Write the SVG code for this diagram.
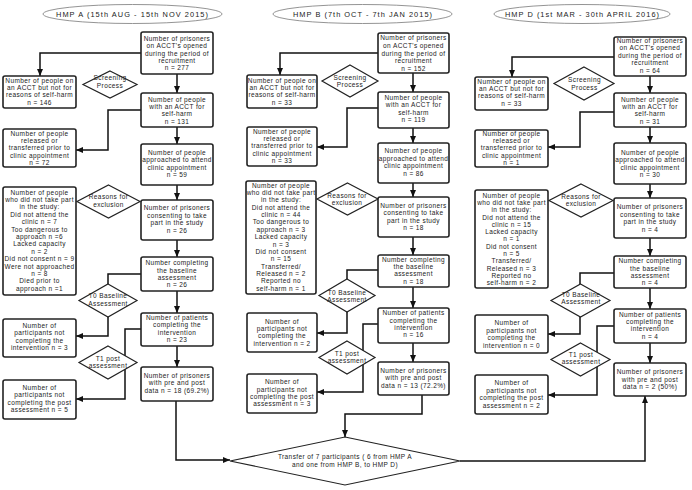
<svg xmlns="http://www.w3.org/2000/svg" width="692" height="490" viewBox="0 0 692 490">
<defs>
<marker id="ah" markerUnits="userSpaceOnUse" markerWidth="7" markerHeight="6" refX="7" refY="3" orient="auto">
<path d="M0,0 L7,3 L0,6 z" fill="#111"/>
</marker>
<style>
.bx{fill:#fff;stroke:#222;stroke-width:1.6}
.dm{fill:#fff;stroke:#222;stroke-width:1.2}
.el{fill:#fff;stroke:#888;stroke-width:0.9}
.t{font-family:"Liberation Sans",Arial,sans-serif;font-size:6.5px;letter-spacing:0.4px;fill:#222;text-anchor:middle}
.h{font-family:"Liberation Sans",Arial,sans-serif;font-size:7.4px;fill:#222;text-anchor:middle}
.c{fill:none;stroke:#111;stroke-width:1.5}
.a{marker-end:url(#ah)}
</style>
</defs>
<rect width="692" height="490" fill="#fff"/>

<g id="connectors">
<!-- Column A -->
<path class="c a" d="M141,53 H40 V76"/>
<path class="c a" d="M177,74 V93"/>
<path class="c a" d="M141,110 H108 V150 H76"/>
<path class="c a" d="M177,127 V144"/>
<path class="c a" d="M177,185 V200"/>
<path class="c a" d="M177,240 V257"/>
<path class="c" d="M141,274 H108 V284"/>
<path class="c a" d="M108,317 V336 H76"/>
<path class="c a" d="M177,291 V313"/>
<path class="c a" d="M141,329 H125 V399 H76"/>
<path class="c a" d="M177,346 V367"/>
<path class="c a" d="M176,401 V460 H230"/>
<!-- Column B -->
<path class="c a" d="M378,53 H280 V75"/>
<path class="c a" d="M413,73 V92"/>
<path class="c a" d="M378,108 H347 V147 H317"/>
<path class="c a" d="M413,128 V143"/>
<path class="c a" d="M413,183 V197"/>
<path class="c a" d="M413,237 V255"/>
<path class="c" d="M378,270 H347 V279"/>
<path class="c a" d="M347,312 V333 H317"/>
<path class="c a" d="M413,287 V308"/>
<path class="c a" d="M378,324 H363 V392 H317"/>
<path class="c a" d="M413,343 V362"/>
<path class="c a" d="M422,395 V414 H345 V437"/>
<!-- Column D -->
<path class="c a" d="M614,57 H512 V77"/>
<path class="c a" d="M650,76 V93"/>
<path class="c a" d="M614,112 H580 V147 H548"/>
<path class="c a" d="M650,127 V143"/>
<path class="c a" d="M650,184 V198"/>
<path class="c a" d="M650,238 V256"/>
<path class="c" d="M614,273 H580 V284"/>
<path class="c a" d="M580,317 V334 H548"/>
<path class="c a" d="M650,288 V309"/>
<path class="c a" d="M614,326 H597 V395 H548"/>
<path class="c a" d="M650,343 V363"/>
<path class="c a" d="M460,461 H645 V396"/>
</g>

<!-- Titles -->
<g id="titleA"><ellipse class="el" cx="132.5" cy="14" rx="89.5" ry="9.5"/><text class="h" x="132" y="16.6" textLength="152" lengthAdjust="spacing">HMP A (15th AUG - 15th NOV 2015)</text></g>
<g id="titleB"><ellipse class="el" cx="362.5" cy="14" rx="89.5" ry="9.5"/><text class="h" x="362.5" y="16.6" textLength="139" lengthAdjust="spacing">HMP B (7th OCT - 7th JAN 2015)</text></g>
<g id="titleD"><ellipse class="el" cx="582" cy="14" rx="88" ry="9.5"/><text class="h" x="582" y="16.6" textLength="154" lengthAdjust="spacing">HMP D (1st MAR - 30th APRIL 2016)</text></g>

<!-- Column A nodes -->
<g id="A1"><rect class="bx" x="141" y="32" width="72" height="42" rx="2"/><text class="t"><tspan x="177" y="40.8">Number of prisoners</tspan><tspan x="177" y="48.2">on ACCT's opened</tspan><tspan x="177" y="55.6">during the period of</tspan><tspan x="177" y="63">recruitment</tspan><tspan x="177" y="70.4">n = 277</tspan></text></g>
<g id="A2"><rect class="bx" x="3" y="76" width="73" height="32" rx="2"/><text class="t"><tspan x="39.5" y="82.5">Number of people on</tspan><tspan x="39.5" y="89.9">an ACCT but not for</tspan><tspan x="39.5" y="97.3">reasons of self-harm</tspan><tspan x="39.5" y="104.7">n = 146</tspan></text></g>
<g id="A_screen"><polygon class="dm" points="110,71 137,84.5 110,98 83,84.5"/><text class="t"><tspan x="110" y="80.3">Screening</tspan><tspan x="110" y="87.7">Process</tspan></text></g>
<g id="A3"><rect class="bx" x="141" y="93" width="72" height="34" rx="2"/><text class="t"><tspan x="177" y="101.5">Number of people</tspan><tspan x="177" y="108.9">with an ACCT for</tspan><tspan x="177" y="116.3">self-harm</tspan><tspan x="177" y="123.7">n = 131</tspan></text></g>
<g id="A4"><rect class="bx" x="3" y="129" width="73" height="38" rx="2"/><text class="t"><tspan x="39.5" y="135.5">Number of people</tspan><tspan x="39.5" y="142.9">released or</tspan><tspan x="39.5" y="150.3">transferred prior to</tspan><tspan x="39.5" y="157.7">clinic appointment</tspan><tspan x="39.5" y="165.1">n = 72</tspan></text></g>
<g id="A5"><rect class="bx" x="141" y="144" width="72" height="41" rx="2"/><text class="t"><tspan x="177" y="154.9">Number of people</tspan><tspan x="177" y="162.3">approached to attend</tspan><tspan x="177" y="169.7">clinic appointment</tspan><tspan x="177" y="177.1">n = 59</tspan></text></g>
<g id="A_reasons"><polygon class="dm" points="108.5,185 140,201.5 108.5,218 77,201.5"/><text class="t"><tspan x="108.5" y="199.4">Reasons for</tspan><tspan x="108.5" y="206.8">exclusion</tspan></text></g>
<g id="A6"><rect class="bx" x="3" y="187" width="73" height="108" rx="2"/><text class="t"><tspan x="39.5" y="194.6">Number of people</tspan><tspan x="39.5" y="202">who did not take part</tspan><tspan x="39.5" y="209.4">in the study:</tspan><tspan x="39.5" y="216.8">Did not attend the</tspan><tspan x="39.5" y="224.1">clinic n = 7</tspan><tspan x="39.5" y="231.5">Too dangerous to</tspan><tspan x="39.5" y="238.9">approach n =6</tspan><tspan x="39.5" y="246.3">Lacked capacity</tspan><tspan x="39.5" y="253.7">n = 2</tspan><tspan x="39.5" y="261.1">Did not consent n = 9</tspan><tspan x="39.5" y="268.5">Were not approached</tspan><tspan x="39.5" y="275.8">n = 8</tspan><tspan x="39.5" y="283.2">Died prior to</tspan><tspan x="39.5" y="290.6">approach n =1</tspan></text></g>
<g id="A7"><rect class="bx" x="141" y="200" width="72" height="40" rx="2"/><text class="t"><tspan x="177" y="210.3">Number of prisoners</tspan><tspan x="177" y="217.7">consenting to take</tspan><tspan x="177" y="225.1">part in the study</tspan><tspan x="177" y="232.5">n = 26</tspan></text></g>
<g id="A8"><rect class="bx" x="141" y="257" width="72" height="34" rx="2"/><text class="t"><tspan x="177" y="265.2">Number completing</tspan><tspan x="177" y="272.6">the baseline</tspan><tspan x="177" y="280">assessment</tspan><tspan x="177" y="287.4">n = 26</tspan></text></g>
<g id="A_T0"><polygon class="dm" points="108,284 137,300.5 108,317 79,300.5"/><text class="t"><tspan x="108" y="298.4">T0 Baseline</tspan><tspan x="108" y="305.8">Assessment</tspan></text></g>
<g id="A9"><rect class="bx" x="141" y="313" width="72" height="33" rx="2"/><text class="t"><tspan x="177" y="319.5">Number of patients</tspan><tspan x="177" y="327">completing the</tspan><tspan x="177" y="334.5">intervention</tspan><tspan x="177" y="342">n = 23</tspan></text></g>
<g id="A10"><rect class="bx" x="3" y="319" width="73" height="38" rx="2"/><text class="t"><tspan x="39.5" y="327.6">Number of</tspan><tspan x="39.5" y="335.1">participants not</tspan><tspan x="39.5" y="342.6">completing the</tspan><tspan x="39.5" y="350">intervention n = 3</tspan></text></g>
<g id="A_T1"><polygon class="dm" points="108,346 137,362.5 108,379 79,362.5"/><text class="t"><tspan x="108" y="360.6">T1 post</tspan><tspan x="108" y="368.2">assessment</tspan></text></g>
<g id="A11"><rect class="bx" x="141" y="367" width="72" height="34" rx="2"/><text class="t"><tspan x="177" y="377.6">Number of prisoners</tspan><tspan x="177" y="385.2">with pre and post</tspan><tspan x="177" y="392.6">data n = 18 (69.2%)</tspan></text></g>
<g id="A12"><rect class="bx" x="3" y="380" width="73" height="39" rx="2"/><text class="t"><tspan x="39.5" y="389.6">Number of</tspan><tspan x="39.5" y="397">participants not</tspan><tspan x="39.5" y="404.5">completing the post</tspan><tspan x="39.5" y="411.9">assessment n = 5</tspan></text></g>

<!-- Column B nodes -->
<g id="B1"><rect class="bx" x="378" y="33" width="71" height="40" rx="2"/><text class="t"><tspan x="413.5" y="40.3">Number of prisoners</tspan><tspan x="413.5" y="48">on ACCT's opened</tspan><tspan x="413.5" y="55.6">during the period of</tspan><tspan x="413.5" y="63.2">recruitment</tspan><tspan x="413.5" y="70.8">n = 152</tspan></text></g>
<g id="B2"><rect class="bx" x="247" y="75" width="70" height="33" rx="2"/><text class="t"><tspan x="282" y="82.6">Number of people on</tspan><tspan x="282" y="90">an ACCT but not for</tspan><tspan x="282" y="97.4">reasons of self-harm</tspan><tspan x="282" y="104.8">n = 33</tspan></text></g>
<g id="B_screen"><polygon class="dm" points="350,65 378,81 350,97 322,81"/><text class="t"><tspan x="350" y="80">Screening</tspan><tspan x="350" y="87.4">Process</tspan></text></g>
<g id="B3"><rect class="bx" x="378" y="92" width="71" height="36" rx="2"/><text class="t"><tspan x="413.5" y="99.9">Number of people</tspan><tspan x="413.5" y="107.3">with an ACCT for</tspan><tspan x="413.5" y="114.7">self-harm</tspan><tspan x="413.5" y="122.1">n = 119</tspan></text></g>
<g id="B4"><rect class="bx" x="247" y="127" width="70" height="39" rx="2"/><text class="t"><tspan x="282" y="133.6">Number of people</tspan><tspan x="282" y="141">released or</tspan><tspan x="282" y="148.4">transferred prior to</tspan><tspan x="282" y="155.8">clinic appointment</tspan><tspan x="282" y="163.2">n = 33</tspan></text></g>
<g id="B5"><rect class="bx" x="378" y="143" width="71" height="40" rx="2"/><text class="t"><tspan x="413.5" y="153.1">Number of people</tspan><tspan x="413.5" y="160.6">approached to attend</tspan><tspan x="413.5" y="168.1">clinic appointment</tspan><tspan x="413.5" y="175.6">n = 86</tspan></text></g>
<g id="B_reasons"><polygon class="dm" points="347.5,183 378,199 347.5,215 317,199"/><text class="t"><tspan x="347" y="197.5">Reasons for</tspan><tspan x="347" y="204.9">exclusion</tspan></text></g>
<g id="B6"><rect class="bx" x="246" y="181" width="70" height="113" rx="2"/><text class="t"><tspan x="281" y="187.6">Number of people</tspan><tspan x="281" y="195">who did not take part</tspan><tspan x="281" y="202.3">in the study:</tspan><tspan x="281" y="209.7">Did not attend the</tspan><tspan x="281" y="217">clinic n = 44</tspan><tspan x="281" y="224.4">Too dangerous to</tspan><tspan x="281" y="231.8">approach n = 3</tspan><tspan x="281" y="239.1">Lacked capacity</tspan><tspan x="281" y="246.5">n = 3</tspan><tspan x="281" y="253.8">Did not consent</tspan><tspan x="281" y="261.2">n = 15</tspan><tspan x="281" y="268.6">Transferred/</tspan><tspan x="281" y="275.9">Released n = 2</tspan><tspan x="281" y="283.3">Reported no</tspan><tspan x="281" y="290.6">self-harm n = 1</tspan></text></g>
<g id="B7"><rect class="bx" x="378" y="197" width="71" height="40" rx="2"/><text class="t"><tspan x="413.5" y="207.6">Number of prisoners</tspan><tspan x="413.5" y="215.2">consenting to take</tspan><tspan x="413.5" y="222.6">part in the study</tspan><tspan x="413.5" y="230">n = 18</tspan></text></g>
<g id="B8"><rect class="bx" x="378" y="255" width="71" height="32" rx="2"/><text class="t"><tspan x="413.5" y="261.5">Number completing</tspan><tspan x="413.5" y="268.9">the baseline</tspan><tspan x="413.5" y="276.3">assessment</tspan><tspan x="413.5" y="283.7">n = 18</tspan></text></g>
<g id="B_T0"><polygon class="dm" points="347,279 375,295.5 347,312 319,295.5"/><text class="t"><tspan x="347" y="294.9">T0 Baseline</tspan><tspan x="347" y="302.3">Assessment</tspan></text></g>
<g id="B9"><rect class="bx" x="378" y="308" width="71" height="35" rx="2"/><text class="t"><tspan x="413.5" y="315.1">Number of patients</tspan><tspan x="413.5" y="322.5">completing the</tspan><tspan x="413.5" y="329.9">intervention</tspan><tspan x="413.5" y="337.3">n = 16</tspan></text></g>
<g id="B10"><rect class="bx" x="247" y="313" width="70" height="39" rx="2"/><text class="t"><tspan x="282" y="323.6">Number of</tspan><tspan x="282" y="331">participants not</tspan><tspan x="282" y="338.4">completing the</tspan><tspan x="282" y="345.8">intervention n = 2</tspan></text></g>
<g id="B_T1"><polygon class="dm" points="347,341 375,357.5 347,374 319,357.5"/><text class="t"><tspan x="347" y="355.9">T1 post</tspan><tspan x="347" y="363.3">assessment</tspan></text></g>
<g id="B11"><rect class="bx" x="378" y="362" width="71" height="33" rx="2"/><text class="t"><tspan x="413.5" y="372.6">Number of prisoners</tspan><tspan x="413.5" y="380">with pre and post</tspan><tspan x="413.5" y="387.5">data n = 13 (72.2%)</tspan></text></g>
<g id="B12"><rect class="bx" x="247" y="374" width="70" height="39" rx="2"/><text class="t"><tspan x="282" y="384.2">Number of</tspan><tspan x="282" y="391.6">participants not</tspan><tspan x="282" y="399">completing the post</tspan><tspan x="282" y="406.4">assessment n = 3</tspan></text></g>

<!-- Column D nodes -->
<g id="C1"><rect class="bx" x="614" y="37" width="72" height="39" rx="2"/><text class="t"><tspan x="650" y="42.6">Number of prisoners</tspan><tspan x="650" y="50.1">on ACCT's opened</tspan><tspan x="650" y="57.6">during the period of</tspan><tspan x="650" y="65.1">recruitment</tspan><tspan x="650" y="72.6">n = 64</tspan></text></g>
<g id="C2"><rect class="bx" x="475" y="77" width="73" height="33" rx="2"/><text class="t"><tspan x="511.5" y="83.6">Number of people on</tspan><tspan x="511.5" y="91">an ACCT but not for</tspan><tspan x="511.5" y="98.4">reasons of self-harm</tspan><tspan x="511.5" y="105.8">n = 33</tspan></text></g>
<g id="C_screen"><polygon class="dm" points="584,67 614,83.5 584,100 554,83.5"/><text class="t"><tspan x="584.5" y="82.3">Screening</tspan><tspan x="584.5" y="89.7">Process</tspan></text></g>
<g id="C3"><rect class="bx" x="614" y="93" width="72" height="34" rx="2"/><text class="t"><tspan x="650" y="101.5">Number of people</tspan><tspan x="650" y="108.9">with an ACCT for</tspan><tspan x="650" y="116.3">self-harm</tspan><tspan x="650" y="123.7">n = 31</tspan></text></g>
<g id="C4"><rect class="bx" x="475" y="130" width="73" height="37" rx="2"/><text class="t"><tspan x="511.5" y="135.6">Number of people</tspan><tspan x="511.5" y="143">released or</tspan><tspan x="511.5" y="150.4">transferred prior to</tspan><tspan x="511.5" y="157.8">clinic appointment</tspan><tspan x="511.5" y="165.2">n = 1</tspan></text></g>
<g id="C5"><rect class="bx" x="614" y="143" width="72" height="41" rx="2"/><text class="t"><tspan x="650" y="154.9">Number of people</tspan><tspan x="650" y="162.4">approached to attend</tspan><tspan x="650" y="169.9">clinic appointment</tspan><tspan x="650" y="177.4">n = 30</tspan></text></g>
<g id="C_reasons"><polygon class="dm" points="581,184 613,200.5 581,217 549,200.5"/><text class="t"><tspan x="581" y="198.5">Reasons for</tspan><tspan x="581" y="205.9">exclusion</tspan></text></g>
<g id="C6"><rect class="bx" x="475" y="190" width="73" height="98" rx="2"/><text class="t"><tspan x="511.5" y="197.6">Number of people</tspan><tspan x="511.5" y="204.9">who did not take part</tspan><tspan x="511.5" y="212.2">in the study:</tspan><tspan x="511.5" y="219.5">Did not attend the</tspan><tspan x="511.5" y="226.8">clinic n = 15</tspan><tspan x="511.5" y="234.1">Lacked capacity</tspan><tspan x="511.5" y="241.4">n = 1</tspan><tspan x="511.5" y="248.7">Did not consent</tspan><tspan x="511.5" y="256">n = 5</tspan><tspan x="511.5" y="263.3">Transferred/</tspan><tspan x="511.5" y="270.6">Released n = 3</tspan><tspan x="511.5" y="277.9">Reported no</tspan><tspan x="511.5" y="285.2">self-harm n = 2</tspan></text></g>
<g id="C7"><rect class="bx" x="614" y="198" width="72" height="40" rx="2"/><text class="t"><tspan x="650" y="209.3">Number of prisoners</tspan><tspan x="650" y="216.8">consenting to take</tspan><tspan x="650" y="224.3">part in the study</tspan><tspan x="650" y="231.7">n = 4</tspan></text></g>
<g id="C8"><rect class="bx" x="614" y="256" width="72" height="32" rx="2"/><text class="t"><tspan x="650" y="263.2">Number completing</tspan><tspan x="650" y="270.6">the baseline</tspan><tspan x="650" y="278">assessment</tspan><tspan x="650" y="285.4">n = 4</tspan></text></g>
<g id="C_T0"><polygon class="dm" points="580.5,284 610,300.5 580.5,317 551,300.5"/><text class="t"><tspan x="581" y="296.6">T0 Baseline</tspan><tspan x="581" y="304">Assessment</tspan></text></g>
<g id="C9"><rect class="bx" x="614" y="309" width="72" height="34" rx="2"/><text class="t"><tspan x="650" y="316.6">Number of patients</tspan><tspan x="650" y="324">completing the</tspan><tspan x="650" y="331.4">intervention</tspan><tspan x="650" y="338.8">n = 4</tspan></text></g>
<g id="C10"><rect class="bx" x="475" y="315" width="73" height="38" rx="2"/><text class="t"><tspan x="511.5" y="325.3">Number of</tspan><tspan x="511.5" y="332.7">participants not</tspan><tspan x="511.5" y="340.1">completing the</tspan><tspan x="511.5" y="347.6">intervention n = 0</tspan></text></g>
<g id="C_T1"><polygon class="dm" points="580.5,343 610,359.5 580.5,376 551,359.5"/><text class="t"><tspan x="581" y="356.9">T1 post</tspan><tspan x="581" y="364.3">assessment</tspan></text></g>
<g id="C11"><rect class="bx" x="614" y="363" width="72" height="33" rx="2"/><text class="t"><tspan x="650" y="374.3">Number of prisoners</tspan><tspan x="650" y="381.8">with pre and post</tspan><tspan x="650" y="389.3">data n = 2 (50%)</tspan></text></g>
<g id="C12"><rect class="bx" x="475" y="375" width="73" height="39" rx="2"/><text class="t"><tspan x="511.5" y="385.3">Number of</tspan><tspan x="511.5" y="392.7">participants not</tspan><tspan x="511.5" y="400.1">completing the post</tspan><tspan x="511.5" y="407.6">assessment n = 2</tspan></text></g>

<!-- Transfer -->
<g id="transfer"><polygon class="dm" points="345,437 460,461 345,485 230,461"/><text class="t"><tspan x="345" y="458.6">Transfer of 7 participants ( 6 from HMP A</tspan><tspan x="345" y="466.6">and one from HMP B, to HMP D)</tspan></text></g>
</svg>
